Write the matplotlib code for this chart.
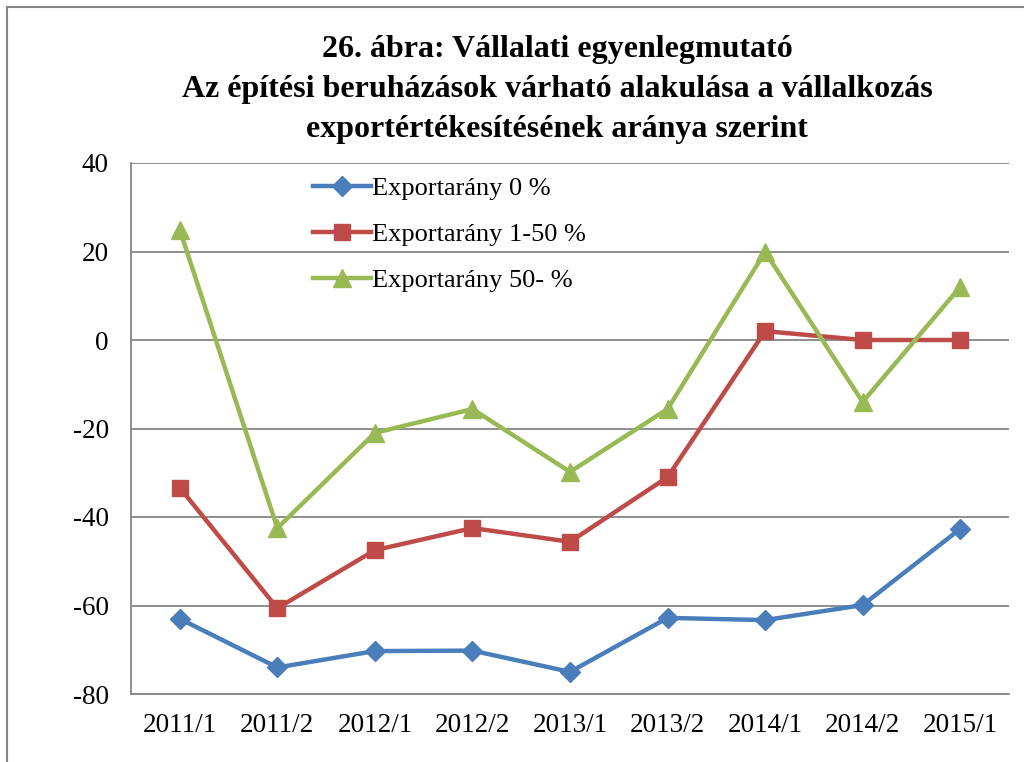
import numpy as np
import matplotlib
matplotlib.use('Agg')
import matplotlib.pyplot as plt
from matplotlib.patches import Rectangle

plt.rcParams['font.family'] = ['Liberation Serif', 'DejaVu Serif']
plt.rcParams['axes.unicode_minus'] = False

categories = ['2011/1', '2011/2', '2012/1', '2012/2', '2013/1', '2013/2', '2014/1', '2014/2', '2015/1']
export_0 = [-63, -74, -70.3, -70.2, -75, -62.8, -63.3, -59.9, -42.7]
export_1_50 = [-33.4, -60.6, -47.5, -42.5, -45.6, -31, 2, 0, 0]
export_50 = [24.9, -42.5, -21, -15.6, -29.8, -15.6, 19.9, -14, 12]

fig = plt.figure(figsize=(10.24, 7.62), dpi=100)
ax = fig.add_axes([131/1024, 1 - 694/762, (1009-131)/1024, (694-163)/762])

x = np.arange(len(categories))
ax.plot(x, export_0, color='#4A7EBB', lw=3.2, marker='D', ms=10, label='Exportarány 0 %')
ax.plot(x, export_1_50, color='#BE4B48', lw=3.2, marker='s', ms=12, label='Exportarány 1-50 %')
ax.plot(x, export_50, color='#98B954', lw=3.2, marker='^', ms=13, label='Exportarány 50- %')

ax.set_xlim(-0.5, len(categories) - 0.5)
ax.set_ylim(-80, 40)
ax.set_yticks(range(-80, 41, 20))
ax.set_xticks(x)
ax.set_xticklabels(categories)
ax.yaxis.grid(True, color='#868686', lw=1.3)
ax.set_axisbelow(True)
for s in ['top', 'right']:
    ax.spines[s].set_visible(False)
for s in ['left', 'bottom']:
    ax.spines[s].set_color('#868686')
    ax.spines[s].set_linewidth(1.3)
ax.tick_params(axis='both', length=0, labelsize=19.5)
ax.tick_params(axis='y', pad=16)
ax.tick_params(axis='x', pad=14)

fig.text(557/1024, 1 - 89/762,
         '26. ábra: Vállalati egyenlegmutató\nAz építési beruházások várható alakulása a vállalkozás\nexportértékesítésének aránya szerint',
         ha='center', va='center', fontsize=23, fontweight='bold', linespacing=1.5)

leg = ax.legend(loc='upper left', bbox_to_anchor=(302/1024, 1 - 166/762), bbox_transform=fig.transFigure,
                frameon=False, fontsize=19, handlelength=2.2, handletextpad=0.05, labelspacing=0.85,
                borderaxespad=0)

fig.patches.append(Rectangle((7/1024, -0.1), 1.1, 1.1 - 7/762, transform=fig.transFigure,
                             fill=False, edgecolor='#868686', lw=1.5))

fig.savefig('out.png', dpi=100)
